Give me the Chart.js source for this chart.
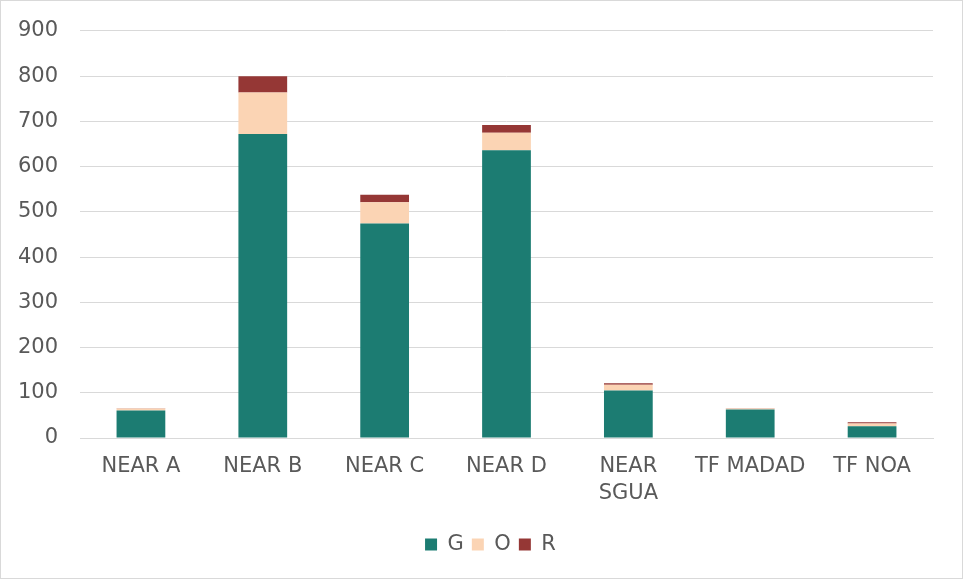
<!DOCTYPE html>
<html>
<head>
<meta charset="utf-8">
<script src="https://cdn.jsdelivr.net/npm/chart.js@4/dist/chart.umd.min.js"></script>
<style>
  html, body { margin: 0; padding: 0; background: #fff; }
  #wrap { width: 963px; height: 579px; position: relative; }
</style>
</head>
<body>
<div id="wrap"><canvas id="c" width="963" height="579"></canvas></div>
<script>
// Units per site, stacked by status
const categories = ['NEAR A', 'NEAR B', 'NEAR C', 'NEAR D', ['NEAR', 'SGUA'], 'TF MADAD', 'TF NOA'];
const seriesG = [61, 672, 474, 636, 105, 63, 26];
const seriesO = [4, 92, 47, 39, 13, 2, 6];
const seriesR = [1, 36, 17, 17, 3, 1, 3];
const yTicks = [0, 100, 200, 300, 400, 500, 600, 700, 800, 900];

const FONT = 'DejaVu Sans, Verdana, sans-serif';
const TEXT = '#595959';
const GRID = '#d9d9d9';

// Thin frame around the whole chart
const frame = {
  id: 'frame',
  afterDraw(chart) {
    const ctx = chart.ctx;
    ctx.save();
    ctx.strokeStyle = GRID;
    ctx.lineWidth = 1;
    ctx.strokeRect(0.5, 0.5, chart.width - 1, chart.height - 1);
    ctx.restore();
  }
};

// Center the legend a little right of the canvas middle, under the plot area
const legendUnderPlot = {
  id: 'legendUnderPlot',
  afterLayout(chart) {
    const lg = chart.legend;
    if (!lg) return;
    const w = lg.right - lg.left;
    const mid = (chart.chartArea.left + chart.chartArea.right) / 2 - 16;
    lg.left = mid - w / 2;
    lg.right = mid + w / 2;
  }
};

new Chart(document.getElementById('c'), {
  type: 'bar',
  data: {
    labels: categories,
    datasets: [
      { label: 'G', data: seriesG, backgroundColor: '#1c7c72' },
      { label: 'O', data: seriesO, backgroundColor: '#fbd4b4' },
      { label: 'R', data: seriesR, backgroundColor: '#953735' }
    ]
  },
  options: {
    responsive: false,
    animation: false,
    layout: { padding: { top: 10, right: 30, left: 0, bottom: 14 } },
    datasets: { bar: { categoryPercentage: 1, barPercentage: 0.4 } },
    plugins: {
      legend: {
        position: 'bottom',
        labels: {
          boxWidth: 12, boxHeight: 12, padding: 8,
          color: TEXT, font: { family: FONT, size: 21 }
        }
      },
      tooltip: { enabled: false }
    },
    scales: {
      x: {
        stacked: true,
        grid: { display: false, drawTicks: false },
        border: { display: true, color: GRID, width: 1 },
        ticks: { color: TEXT, font: { family: FONT, size: 21, lineHeight: 1.3 }, padding: 15, maxRotation: 0, autoSkip: false },
        afterFit(scale) { scale.height = 88; }
      },
      y: {
        stacked: true,
        min: 0, max: 900,
        afterBuildTicks(scale) { scale.ticks = yTicks.map(v => ({ value: v })); },
        grid: { color: GRID, lineWidth: 1, drawTicks: false },
        border: { display: false },
        ticks: { color: TEXT, font: { family: FONT, size: 21, lineHeight: 0.85 }, padding: 22 },
        afterFit(scale) { scale.width = 80; }
      }
    }
  },
  plugins: [frame, legendUnderPlot]
});
</script>
</body>
</html>
